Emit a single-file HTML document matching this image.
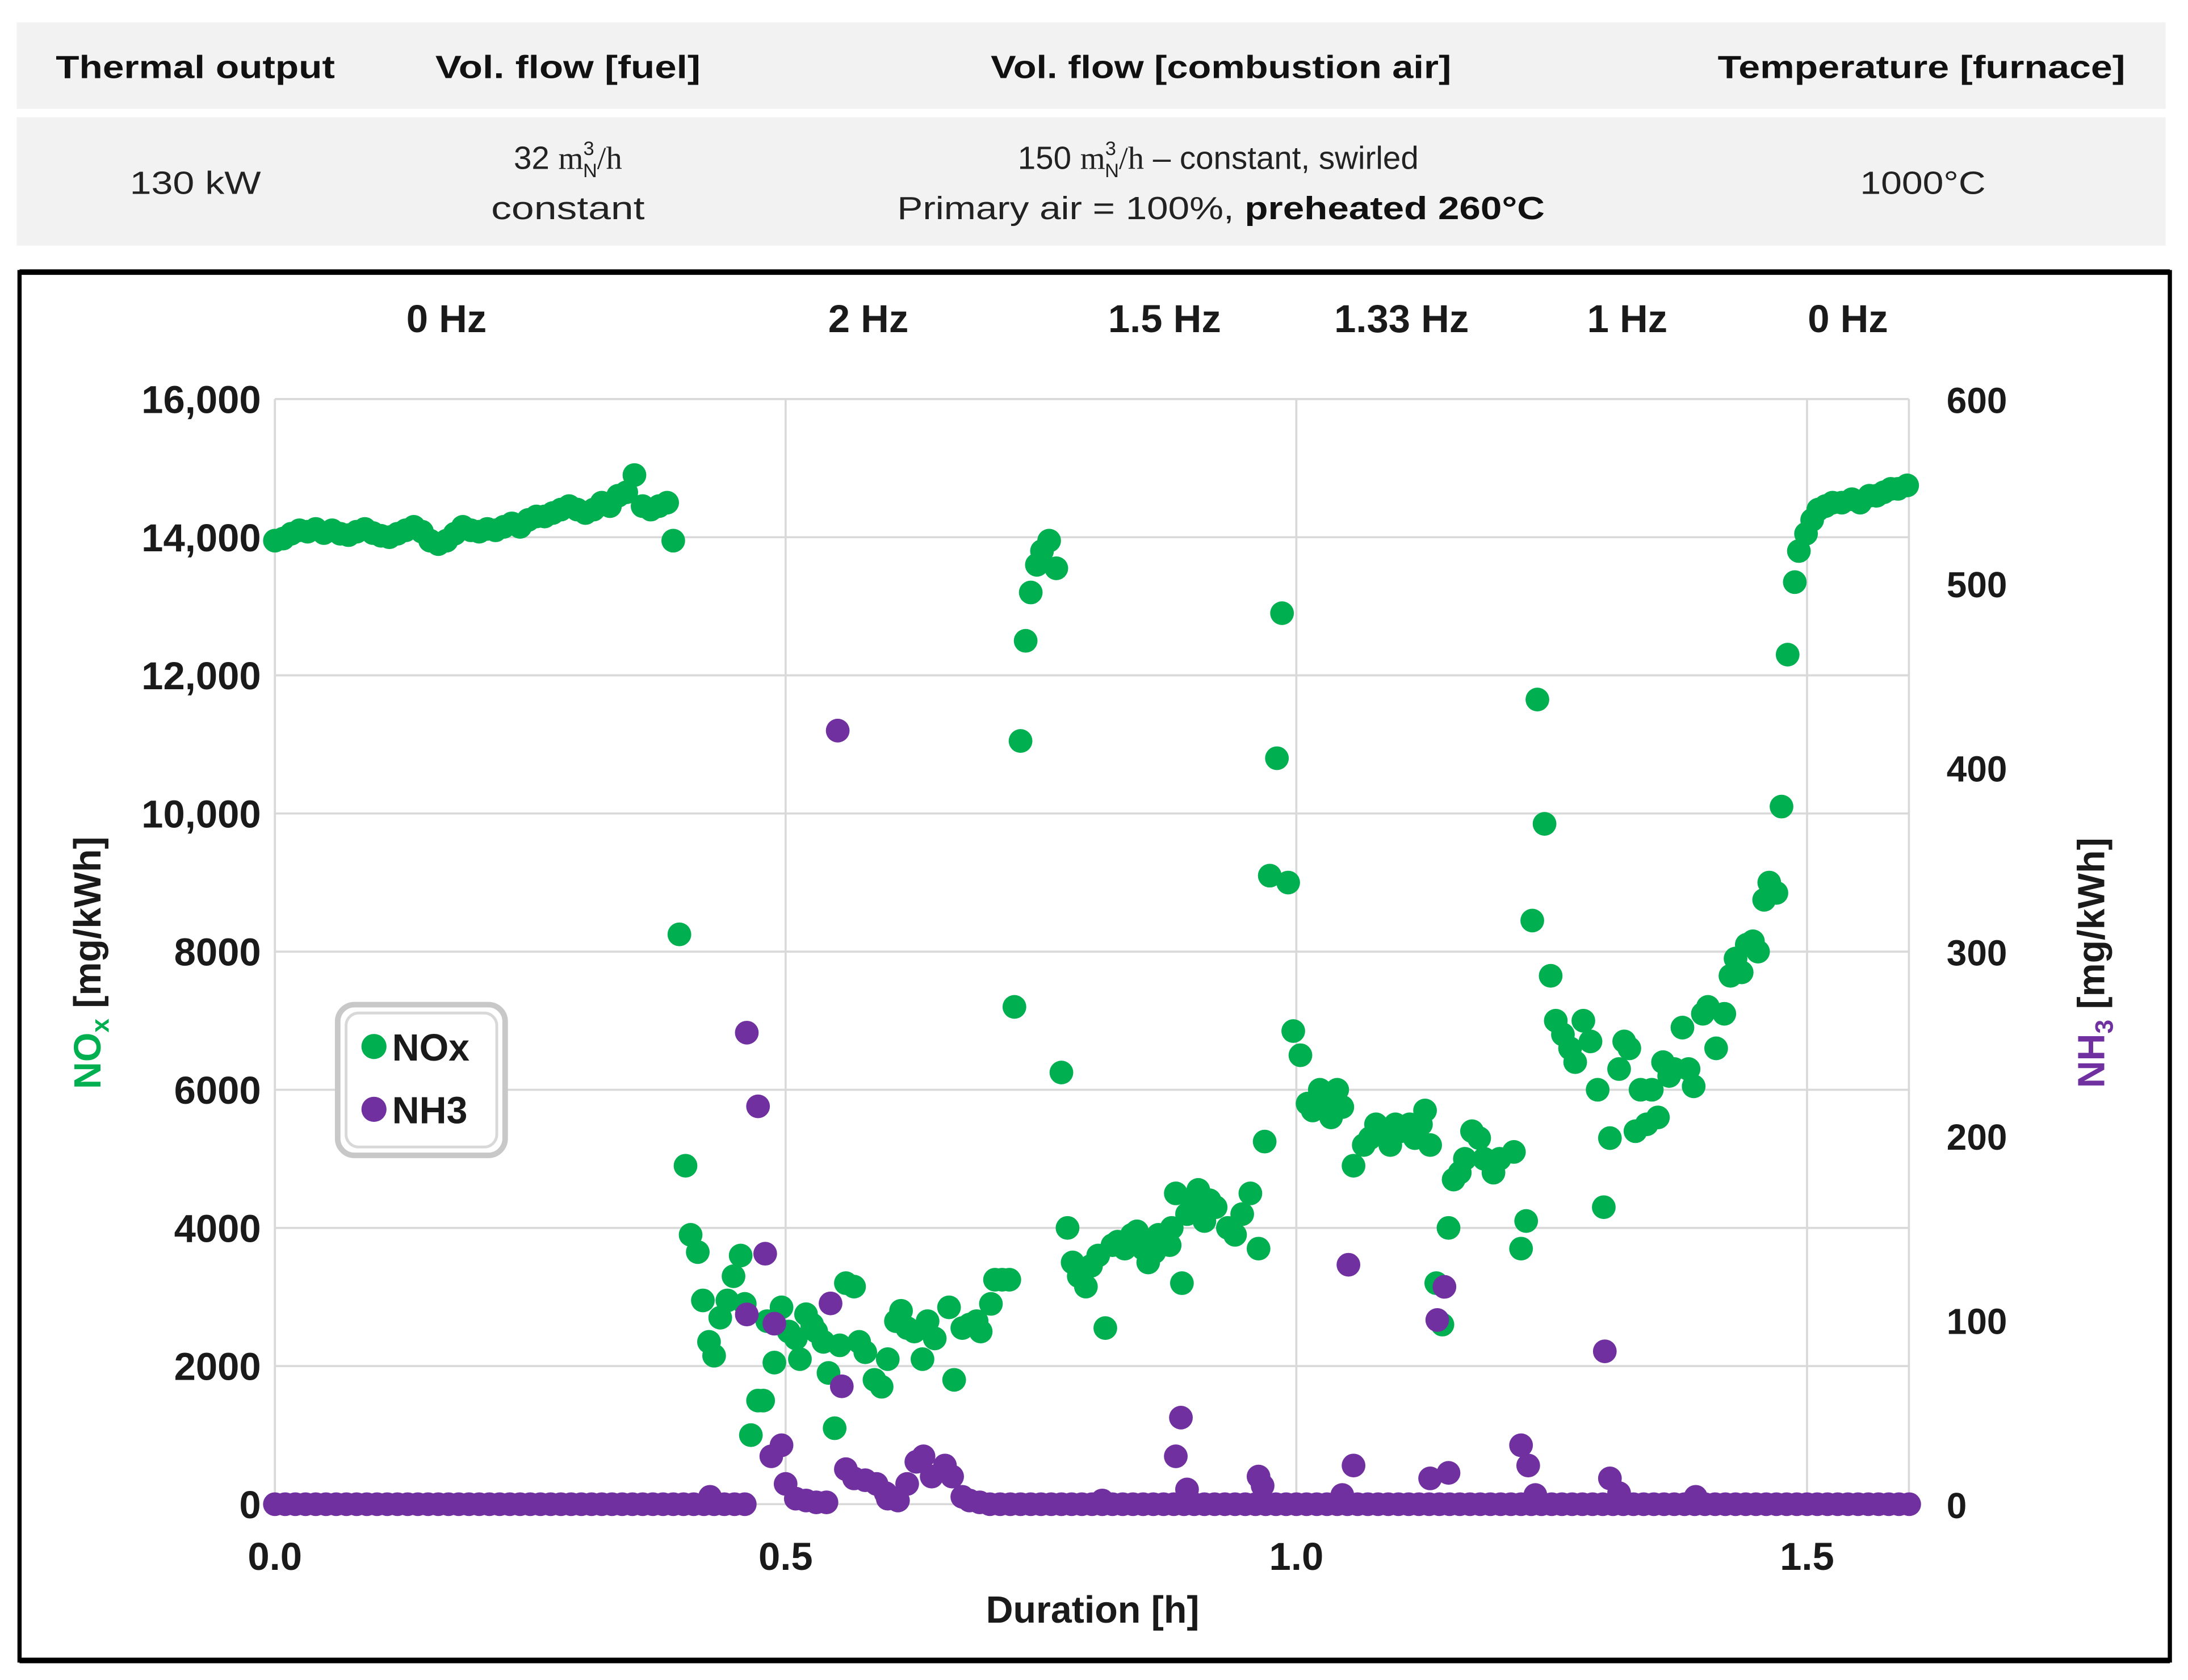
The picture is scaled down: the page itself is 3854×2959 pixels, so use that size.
<!DOCTYPE html>
<html><head><meta charset="utf-8"><style>
html,body{margin:0;padding:0;background:#fff;}
svg{display:block;}
text{font-family:"Liberation Sans",sans-serif;}
</style></head><body>
<svg id="chart" width="3854" height="2959" viewBox="0 0 1568 1204" preserveAspectRatio="none" xmlns="http://www.w3.org/2000/svg">
<g>
<rect x="12" y="16" width="1540" height="62" fill="#f2f2f2"/>
<rect x="12" y="84" width="1540" height="92" fill="#f2f2f2"/>
<g font-weight="bold" font-size="23" fill="#111" text-anchor="middle">
<text x="140" y="56" textLength="200" lengthAdjust="spacingAndGlyphs">Thermal output</text>
<text x="407" y="56" textLength="190" lengthAdjust="spacingAndGlyphs">Vol. flow [fuel]</text>
<text x="875" y="56" textLength="330" lengthAdjust="spacingAndGlyphs">Vol. flow [combustion air]</text>
<text x="1377" y="56" textLength="292" lengthAdjust="spacingAndGlyphs">Temperature [furnace]</text>
</g>
<g font-size="23" fill="#222" text-anchor="middle">
<text x="140" y="139" textLength="94" lengthAdjust="spacingAndGlyphs">130 kW</text>
<text x="407" y="121"><tspan>32 </tspan><tspan font-family="Liberation Serif,serif">m</tspan><tspan font-size="14" dy="-10">3</tspan><tspan font-size="14" dx="-8" dy="16">N</tspan><tspan font-family="Liberation Serif,serif" dy="-6">/h</tspan></text>
<text x="407" y="157" textLength="110" lengthAdjust="spacingAndGlyphs">constant</text>
<text x="873" y="121"><tspan>150 </tspan><tspan font-family="Liberation Serif,serif">m</tspan><tspan font-size="14" dy="-10">3</tspan><tspan font-size="14" dx="-8" dy="16">N</tspan><tspan font-family="Liberation Serif,serif" dy="-6">/h</tspan><tspan> – constant, swirled</tspan></text>
<text x="875" y="157" textLength="464" lengthAdjust="spacingAndGlyphs">Primary air = 100%, <tspan font-weight="bold" fill="#111">preheated 260°C</tspan></text>
<text x="1378" y="139" textLength="90" lengthAdjust="spacingAndGlyphs">1000°C</text>
</g>
</g>
<rect x="14" y="195" width="1541" height="995" fill="#fff" stroke="#000" stroke-width="3"/>
<line x1="14" y1="195" x2="1555" y2="195" stroke="#000" stroke-width="4"/>
<line x1="14" y1="1190" x2="1555" y2="1190" stroke="#000" stroke-width="4"/>
<g id="grid"></g>
<g id="axes" font-weight="bold" font-size="28" fill="#1a1a1a"></g>
<g id="phases" font-weight="bold" font-size="28" fill="#1a1a1a" text-anchor="middle"></g>
<g id="nox"></g>
<g id="nh3"></g>
<text x="783" y="1163" text-anchor="middle" font-weight="bold" font-size="27" fill="#1a1a1a">Duration [h]</text>
<text transform="translate(72,690) rotate(-90)" text-anchor="middle" font-weight="bold" font-size="27" fill="#1a1a1a"><tspan fill="#00b050">NO</tspan><tspan fill="#00b050" font-size="18" dy="6">x</tspan><tspan dy="-6"> [mg/kWh]</tspan></text>
<text transform="translate(1508,690) rotate(-90)" text-anchor="middle" font-weight="bold" font-size="27" fill="#1a1a1a"><tspan fill="#7030a0">NH</tspan><tspan fill="#7030a0" font-size="18" dy="6">3</tspan><tspan dy="-6"> [mg/kWh]</tspan></text>
<g>
<rect x="242" y="720" width="120" height="108" rx="12" fill="#fff" stroke="#c8c8c8" stroke-width="4"/>
<rect x="248" y="726" width="108" height="96" rx="9" fill="#fff" stroke="#d8d8d8" stroke-width="2"/>
<circle cx="268" cy="750" r="9" fill="#00b050"/>
<text x="281" y="760" font-weight="bold" font-size="27" fill="#1a1a1a">NOx</text>
<circle cx="268" cy="795" r="9" fill="#7030a0"/>
<text x="281" y="805" font-weight="bold" font-size="27" fill="#1a1a1a">NH3</text>
</g>
</svg>
<script>
const leftTicks = [0,2000,4000,6000,8000,10000,12000,14000,16000];
const leftTickLabels = ["0","2000","4000","6000","8000","10,000","12,000","14,000","16,000"];
const rightTicks = [0,100,200,300,400,500,600];
const xTicks = [0,0.5,1.0,1.5];
const xTickLabels = ["0.0","0.5","1.0","1.5"];
const phaseLabels = ["0 Hz","2 Hz","1.5 Hz","1.33 Hz","1 Hz","0 Hz"];
const phaseTimes = [0.168,0.581,0.871,1.103,1.324,1.540];
const noxPoints = [[0,13950],[0.008,13980],[0.016,14050],[0.024,14100],[0.032,14080],[0.04,14120],[0.048,14060],[0.056,14100],[0.064,14050],[0.072,14030],[0.08,14080],[0.088,14120],[0.096,14060],[0.104,14020],[0.112,14000],[0.12,14050],[0.128,14100],[0.136,14150],[0.144,14080],[0.152,13950],[0.16,13900],[0.168,13950],[0.176,14050],[0.184,14150],[0.192,14100],[0.2,14080],[0.208,14120],[0.216,14100],[0.224,14150],[0.232,14200],[0.24,14150],[0.248,14250],[0.256,14300],[0.264,14300],[0.272,14350],[0.28,14400],[0.288,14450],[0.296,14400],[0.304,14350],[0.312,14400],[0.32,14500],[0.328,14450],[0.336,14600],[0.344,14650],[0.352,14900],[0.36,14450],[0.368,14400],[0.376,14450],[0.384,14500],[0.39,13950],
[0.396,8250],[0.402,4900],[0.407,3900],[0.414,3650],[0.419,2950],[0.425,2350],[0.43,2150],[0.436,2700],[0.443,2950],[0.449,3300],[0.456,3600],[0.46,2900],[0.466,1000],[0.473,1500],[0.478,1500],[0.482,2650],[0.489,2050],[0.496,2850],[0.503,2500],[0.51,2400],[0.514,2100],[0.52,2750],[0.526,2600],[0.53,2500],[0.537,2350],[0.542,1900],[0.548,1100],[0.553,2300],[0.559,3200],[0.567,3150],[0.572,2350],[0.578,2200],[0.587,1800],[0.594,1700],[0.6,2100],[0.608,2650],[0.613,2800],[0.619,2550],[0.626,2500],[0.634,2100],[0.639,2650],[0.646,2400],[0.66,2850],[0.665,1800],[0.673,2550],[0.68,2600],[0.687,2650],[0.691,2500],[0.701,2900],[0.705,3250],[0.712,3250],[0.719,3250],
[0.724,7200],[0.73,11050],[0.735,12500],[0.74,13200],[0.746,13600],[0.751,13800],[0.758,13950],[0.765,13550],[0.77,6250],[0.776,4000],[0.781,3500],[0.787,3300],[0.794,3150],[0.799,3450],[0.806,3600],[0.813,2550],[0.82,3750],[0.825,3800],[0.832,3700],[0.839,3900],[0.844,3950],[0.85,3700],[0.855,3500],[0.861,3650],[0.865,3900],[0.872,3850],[0.876,3750],[0.878,4000],[0.882,4500],[0.888,3200],[0.893,4200],[0.899,4350],[0.904,4550],[0.91,4100],[0.915,4400],[0.921,4300],[0.933,4000],[0.94,3900],[0.947,4200],[0.955,4500],[0.963,3700],
[0.969,5250],[0.974,9100],[0.981,10800],[0.986,12900],[0.992,9000],[0.997,6850],[1.004,6500],[1.011,5800],[1.016,5700],[1.023,6000],[1.029,5900],[1.034,5600],[1.04,6000],[1.045,5750],[1.056,4900],[1.066,5200],[1.072,5300],[1.078,5500],[1.083,5400],[1.092,5200],[1.097,5500],[1.102,5400],[1.111,5500],[1.116,5300],[1.122,5500],[1.126,5700],[1.131,5200],[1.137,3200],[1.143,2600],[1.149,4000],[1.154,4700],[1.16,4800],[1.165,5000],[1.172,5400],[1.179,5300],[1.184,5000],[1.193,4800],[1.199,5000],[1.213,5100],[1.22,3700],[1.225,4100],
[1.231,8450],[1.236,11650],[1.243,9850],[1.249,7650],[1.254,7000],[1.261,6800],[1.268,6600],[1.273,6400],[1.281,7000],[1.288,6700],[1.295,6000],[1.301,4300],[1.307,5300],[1.316,6300],[1.321,6700],[1.326,6600],[1.332,5400],[1.337,6000],[1.343,5500],[1.348,6000],[1.354,5600],[1.359,6400],[1.365,6200],[1.37,6300],[1.378,6900],[1.384,6300],[1.389,6050],[1.398,7100],[1.403,7200],[1.411,6600],[1.419,7100],[1.425,7650],[1.43,7900],[1.436,7700],[1.441,8100],[1.447,8150],[1.452,8000],[1.458,8750],[1.463,9000],[1.47,8850],[1.475,10100],[1.481,12300],[1.488,13350],[1.492,13800],[1.499,14050],[1.505,14250],[1.511,14400],[1.518,14450],[1.525,14500],[1.534,14500],[1.544,14550],[1.552,14500],[1.561,14600],[1.568,14600],[1.575,14650],[1.582,14700],[1.589,14700],[1.598,14750]];
const nh3Baseline = [[0,0],[0.01,0],[0.02,0],[0.03,0],[0.04,0],[0.05,0],[0.06,0],[0.07,0],[0.08,0],[0.09,0],[0.1,0],[0.11,0],[0.12,0],[0.13,0],[0.14,0],[0.15,0],[0.16,0],[0.17,0],[0.18,0],[0.19,0],[0.2,0],[0.21,0],[0.22,0],[0.23,0],[0.24,0],[0.25,0],[0.26,0],[0.27,0],[0.28,0],[0.29,0],[0.3,0],[0.31,0],[0.32,0],[0.33,0],[0.34,0],[0.35,0],[0.36,0],[0.37,0],[0.38,0],[0.39,0],[0.4,0],[0.41,0],[0.42,0],[0.43,0],[0.44,0],[0.45,0],[0.46,0],[0.52,2],[0.53,1],[0.54,1],[0.6,3],[0.61,2],[0.68,2],[0.69,1],[0.7,0],[0.71,0],[0.72,0],[0.73,0],[0.74,0],[0.75,0],[0.76,0],[0.77,0],[0.78,0],[0.79,0],[0.8,0],[0.81,0],[0.82,0],[0.83,0],[0.84,0],[0.85,0],[0.86,0],[0.87,0],[0.88,0],[0.89,0],[0.9,0],[0.91,0],[0.92,0],[0.93,0],[0.94,0],[0.95,0],[0.96,0],[0.97,0],[0.98,0],[0.99,0],[1.0,0],[1.01,0],[1.02,0],[1.03,0],[1.04,0],[1.05,0],[1.06,0],[1.07,0],[1.08,0],[1.09,0],[1.1,0],[1.11,0],[1.12,0],[1.13,0],[1.14,0],[1.15,0],[1.16,0],[1.17,0],[1.18,0],[1.19,0],[1.2,0],[1.21,0],[1.22,0],[1.23,0],[1.24,0],[1.25,0],[1.26,0],[1.27,0],[1.28,0],[1.29,0],[1.3,0],[1.31,0],[1.32,0],[1.33,0],[1.34,0],[1.35,0],[1.36,0],[1.37,0],[1.38,0],[1.39,0],[1.4,0],[1.41,0],[1.42,0],[1.43,0],[1.44,0],[1.45,0],[1.46,0],[1.47,0],[1.48,0],[1.49,0],[1.5,0],[1.51,0],[1.52,0],[1.53,0],[1.54,0],[1.55,0],[1.56,0],[1.57,0],[1.58,0],[1.59,0],[1.6,0]];
const nh3Spikes = [[0.426,4],[0.462,256],[0.462,103],[0.473,216],[0.48,136],[0.489,98],[0.486,26],[0.496,32],[0.5,11],[0.51,3],[0.551,420],[0.544,109],[0.555,64],[0.559,19],[0.567,14],[0.578,13],[0.589,11],[0.598,6],[0.619,11],[0.628,23],[0.635,26],[0.643,15],[0.656,21],[0.663,15],[0.673,4],[0.81,2],[0.887,47],[0.882,26],[0.893,8],[0.963,15],[0.967,10],[1.051,130],[1.056,21],[1.045,5],[1.138,100],[1.145,118],[1.149,17],[1.131,14],[1.22,32],[1.227,21],[1.234,5],[1.302,83],[1.307,14],[1.316,6],[1.391,4]];

const NS = "http://www.w3.org/2000/svg";
const PL = 197, PR = 1368, PT = 286, PB = 1078;
function xs(t){ return PL + t * 732; }
function yl(v){ return PB - v / 16000 * (PB - PT); }
function yr(v){ return PB - v / 600 * (PB - PT); }
function mk(tag, attrs, parent){ const e = document.createElementNS(NS, tag); for (const k in attrs) e.setAttribute(k, attrs[k]); parent.appendChild(e); return e; }

const grid = document.getElementById('grid');
leftTicks.forEach(v => {
  const l = mk('line', {x1: PL, x2: PR, y1: yl(v), y2: yl(v), stroke: '#d9d9d9', 'stroke-width': 1.5}, grid);
  
  
});
[PL, PR].forEach(x => { mk('line', {x1: x, x2: x, y1: PT, y2: PB, stroke: '#d9d9d9', 'stroke-width': 1.5}, grid); });
xTicks.forEach(t => {
  const l = mk('line', {x1: xs(t), x2: xs(t), y1: PT, y2: PB, stroke: '#d9d9d9', 'stroke-width': 1.5}, grid);
  
  
});

const axes = document.getElementById('axes');
leftTicks.forEach((v, i) => {
  const t = mk('text', {x: 187, y: yl(v) + 10, 'text-anchor': 'end'}, axes);
  t.textContent = leftTickLabels[i];
  
  
});
rightTicks.forEach(v => {
  const t = mk('text', {x: 1395, y: yr(v) + 10, 'text-anchor': 'start', 'font-size': 26}, axes);
  t.textContent = String(v);
  
  
});
xTicks.forEach((v, i) => {
  const t = mk('text', {x: xs(v), y: 1125, 'text-anchor': 'middle'}, axes);
  t.textContent = xTickLabels[i];
  
  
});

const phases = document.getElementById('phases');
phaseLabels.forEach((s, i) => {
  const t = mk('text', {x: xs(phaseTimes[i]), y: 238}, phases);
  t.textContent = s;
  
  
});

const nox = document.getElementById('nox');
noxPoints.forEach(p => {
  const c = mk('circle', {cx: xs(p[0]), cy: yl(p[1]), r: 8.5, fill: '#00b050'}, nox);
  
  
});
const nh3 = document.getElementById('nh3');
nh3Baseline.concat(nh3Spikes).forEach(p => {
  const c = mk('circle', {cx: xs(p[0]), cy: yr(p[1]), r: 8.5, fill: '#7030a0'}, nh3);
  
  
});
</script>
</body></html>
